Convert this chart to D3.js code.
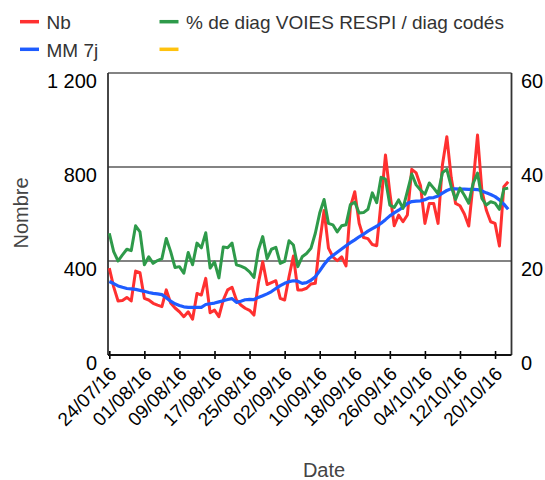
<!DOCTYPE html>
<html>
<head>
<meta charset="utf-8">
<script src="https://cdn.jsdelivr.net/npm/d3@7/dist/d3.min.js"></script>
<style>
  html, body { margin: 0; padding: 0; background: #fff; }
  svg { display: block; font-family: "Liberation Sans", Arial, sans-serif; }
</style>
</head>
<body>
<svg id="chart" width="545" height="480"></svg>
<script>
// Daily series, 24/07/16 to 23/10/16
const startDate = "24/07/16";

// Nb: daily count (left axis)
const nb = [
  370, 290, 230, 232, 245, 230, 357, 350, 241, 234,
  220, 212, 206, 277, 221, 200, 184, 163, 184, 152,
  262, 255, 326, 180, 191, 163, 234, 277, 288, 234,
  213, 199, 190, 170, 305, 397, 300, 308, 316, 241,
  234, 333, 421, 277, 277, 284, 302, 305, 480, 615,
  455, 418, 401, 418, 379, 630, 695, 560, 500, 495,
  470, 465, 650, 851, 690, 550, 595, 567, 596, 790,
  775, 720, 560, 645, 645, 560, 810, 929, 755, 645,
  635, 600, 549, 730, 936, 700, 617, 567, 560, 464,
  716, 737
];

// MM 7j: 7-day moving average (left axis)
const mm7 = [
  313, 304, 294, 288, 283, 281, 279, 275, 271, 266,
  262, 260, 257, 244, 229, 218, 211, 205, 203, 203,
  203, 203, 215, 218, 221, 226, 231, 236, 240, 224,
  229, 235, 237, 236, 245, 252, 260, 270, 283, 295,
  305, 312, 316, 314, 305, 308, 318, 333, 358, 385,
  408, 423, 437, 451, 465, 478, 490, 503, 514, 527,
  538, 548, 561, 576, 592, 605, 616, 629, 645, 653,
  655, 656, 661, 669, 670, 677, 689, 700, 707, 707,
  706, 706, 705, 705, 704, 698, 690, 683, 674, 660,
  642, 620
];

// % de diag VOIES RESPI / diag codés (right axis)
const pct = [
  25.9, 22.0, 20.0, 21.3, 22.5, 22.2, 27.5, 26.2, 19.2, 20.9,
  19.5, 20.1, 20.5, 24.8, 22.0, 18.6, 18.8, 17.4, 21.8, 19.2,
  23.8, 22.8, 26.0, 18.5, 19.8, 16.4, 23.0, 22.8, 23.8, 19.2,
  18.9, 18.5, 17.7, 16.5, 22.3, 25.2, 20.5, 22.5, 22.9, 19.5,
  19.9, 24.3, 23.4, 18.8, 20.9, 21.6, 22.7, 25.9, 30.2, 33.1,
  28.0, 27.7, 26.2, 27.5, 27.7, 32.0, 32.5, 30.2, 30.3, 31.0,
  34.5, 32.4, 37.8, 37.4, 31.9, 31.4, 33.0, 31.2, 34.8, 38.5,
  36.2, 35.1, 34.2, 36.6, 35.5, 34.3, 38.8, 39.5, 35.8, 33.1,
  35.5, 34.0, 32.3, 36.5, 38.7, 33.3, 31.9, 32.6, 32.3, 31.0,
  35.3, 35.5
];

const xTickLabels = ["24/07/16", "01/08/16", "09/08/16", "17/08/16", "25/08/16", "02/09/16",
                     "10/09/16", "18/09/16", "26/09/16", "04/10/16", "12/10/16", "20/10/16"];
const yLeftTicks = [0, 400, 800, 1200];
const yLeftLabels = ["0", "400", "800", "1 200"];
const yRightTicks = [0, 20, 40, 60];

const legendItems = [
  { label: "Nb", color: "#ff3030", col: 0, row: 0 },
  { label: "MM 7j", color: "#1e5cff", col: 0, row: 1 },
  { label: "% de diag VOIES RESPI / diag codés", color: "#2e9a4a", col: 1, row: 0 },
  { label: "", color: "#ffc20e", col: 1, row: 1 }
];

const parse = d3.timeParse("%d/%m/%y");
const fmt = d3.timeFormat("%d/%m/%y");
const dates = d3.range(nb.length).map(i => d3.timeDay.offset(parse(startDate), i));

const svg = d3.select("#chart");
const plot = { left: 108, right: 511.5, top: 73, bottom: 355 };

const x = d3.scaleTime()
  .domain([dates[0], dates[dates.length - 1]])
  .range([109.3, 508.2]);
const yL = d3.scaleLinear().domain([0, 1200]).range([plot.bottom, plot.top]);
const yR = d3.scaleLinear().domain([0, 60]).range([plot.bottom, plot.top]);

// Horizontal grid lines (including the top edge)
svg.append("g").selectAll("line")
  .data(yLeftTicks.filter(v => v > 0))
  .join("line")
  .attr("x1", plot.left).attr("x2", plot.right)
  .attr("y1", d => yL(d)).attr("y2", d => yL(d))
  .attr("stroke", "#5a5a5a").attr("stroke-width", 1.6);

// Left and right frame lines
svg.append("line")
  .attr("x1", plot.left).attr("x2", plot.left)
  .attr("y1", plot.top).attr("y2", plot.bottom)
  .attr("stroke", "#333").attr("stroke-width", 1.8);
svg.append("line")
  .attr("x1", plot.right).attr("x2", plot.right)
  .attr("y1", plot.top).attr("y2", plot.bottom)
  .attr("stroke", "#333").attr("stroke-width", 1.8);

// Left axis labels
svg.append("g").selectAll("text")
  .data(yLeftTicks)
  .join("text")
  .attr("x", 97).attr("y", d => yL(d) + 15)
  .attr("text-anchor", "end")
  .attr("font-size", 20).attr("fill", "#000")
  .text((d, i) => yLeftLabels[i]);

// Right axis labels
svg.append("g").selectAll("text")
  .data(yRightTicks)
  .join("text")
  .attr("x", 521).attr("y", d => yR(d) + 15)
  .attr("text-anchor", "start")
  .attr("font-size", 20).attr("fill", "#000")
  .text(d => d);

// Bottom axis with ticks crossing the axis line
const xTicks = xTickLabels.map(parse);
const xAxis = svg.append("g")
  .attr("transform", `translate(0,${plot.bottom})`)
  .call(d3.axisBottom(x).tickValues(xTicks).tickFormat(fmt).tickSize(4).tickSizeOuter(0));
xAxis.select(".domain").remove();
xAxis.selectAll(".tick line")
  .attr("y1", -4).attr("y2", 4)
  .attr("stroke", "#000").attr("stroke-width", 1.6);
xAxis.selectAll(".tick text")
  .attr("font-size", 19).attr("fill", "#000")
  .attr("font-family", "Liberation Sans, Arial, sans-serif")
  .attr("text-anchor", "end")
  .attr("dy", null).attr("y", null)
  .attr("transform", "translate(8,20) rotate(-45)");
svg.append("line")
  .attr("x1", plot.left).attr("x2", plot.right)
  .attr("y1", plot.bottom).attr("y2", plot.bottom)
  .attr("stroke", "#111").attr("stroke-width", 2);

// Series lines
const lineL = d3.line().x((d, i) => x(dates[i])).y(d => yL(d));
const lineR = d3.line().x((d, i) => x(dates[i])).y(d => yR(d));

svg.append("path").datum(nb)
  .attr("d", lineL).attr("fill", "none")
  .attr("stroke", legendItems[0].color).attr("stroke-width", 3).attr("stroke-linejoin", "round");
svg.append("path").datum(mm7)
  .attr("d", lineL).attr("fill", "none")
  .attr("stroke", legendItems[1].color).attr("stroke-width", 3.2).attr("stroke-linejoin", "round");
svg.append("path").datum(pct)
  .attr("d", lineR).attr("fill", "none")
  .attr("stroke", legendItems[2].color).attr("stroke-width", 3).attr("stroke-linejoin", "round");

// Axis titles
svg.append("text")
  .attr("transform", "translate(28,213) rotate(-90)")
  .attr("text-anchor", "middle")
  .attr("font-size", 20).attr("fill", "#444")
  .text("Nombre");
svg.append("text")
  .attr("x", 324).attr("y", 477)
  .attr("text-anchor", "middle")
  .attr("font-size", 20).attr("fill", "#444")
  .text("Date");

// Legend
const colX = [20, 159.5];
const rowY = [21.7, 49.3];
const lg = svg.append("g").selectAll("g")
  .data(legendItems)
  .join("g")
  .attr("transform", d => `translate(${colX[d.col]},${rowY[d.row]})`);
lg.append("line")
  .attr("x1", 0).attr("x2", 19).attr("y1", 0).attr("y2", 0)
  .attr("stroke", d => d.color).attr("stroke-width", 3.5);
lg.append("text")
  .attr("x", 26.5).attr("y", 7.5)
  .attr("font-size", 19).attr("fill", "#333")
  .text(d => d.label);
</script>
</body>
</html>
